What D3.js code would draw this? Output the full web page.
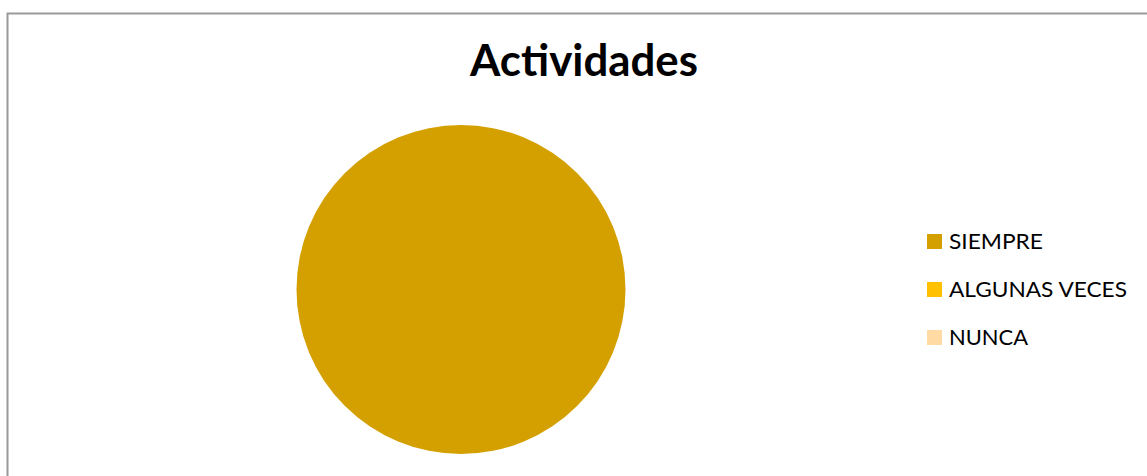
<!DOCTYPE html>
<html><head><meta charset="utf-8">
<script src="https://cdn.jsdelivr.net/npm/d3@7"></script>
<style>html,body{margin:0;padding:0;background:#fff;overflow:hidden}</style>
</head><body>
<svg id="c" width="1147" height="476"></svg>
<script>
const title = "Actividades";
const categories = ["SIEMPRE", "ALGUNAS VECES", "NUNCA"];
const values = [100, 0, 0];
const colors = ["#D4A000", "#FFC000", "#FFDBA3"];

const svg = d3.select("#c");
svg.append("rect").attr("x", 7.5).attr("y", 13.5).attr("width", 1200).attr("height", 500)
  .attr("fill", "#fff").attr("stroke", "#9a9a9a").attr("stroke-width", 2);

svg.append("text").attr("x", 584).attr("y", 76).attr("text-anchor", "middle")
  .attr("font-family", "Lato, 'Open Sans', sans-serif").attr("font-weight", "bold")
  .attr("font-size", 43).attr("fill", "#000")
  .attr("textLength", 228).attr("lengthAdjust", "spacingAndGlyphs")
  .text(title);

const color = d3.scaleOrdinal().domain(categories).range(colors);
const pie = d3.pie().sort(null).value(d => d.v);
const data = categories.map((c, i) => ({ c, v: values[i] }));
const arc = d3.arc().innerRadius(0).outerRadius(164.5);
svg.append("g").attr("transform", "translate(461,289.5)")
  .selectAll("path").data(pie(data).filter(d => d.value > 0)).join("path")
  .attr("d", arc).attr("fill", d => color(d.data.c));

const ly = d3.scalePoint().domain(categories).range([241.5, 337.5]);
const lg = svg.append("g");
const items = lg.selectAll("g").data(categories).join("g")
  .attr("transform", d => `translate(927,${ly(d)})`);
items.append("rect").attr("x", 0).attr("y", -7.5).attr("width", 15).attr("height", 15)
  .attr("fill", d => color(d));
const widths = { "SIEMPRE": 94, "ALGUNAS VECES": 178, "NUNCA": 79 };
items.append("text").attr("x", 22).attr("y", 7.5)
  .attr("font-family", "Lato, 'Open Sans', sans-serif").attr("font-size", 21.5).attr("fill", "#000")
  .attr("textLength", d => widths[d]).attr("lengthAdjust", "spacingAndGlyphs")
  .text(d => d);
</script>
</body></html>
